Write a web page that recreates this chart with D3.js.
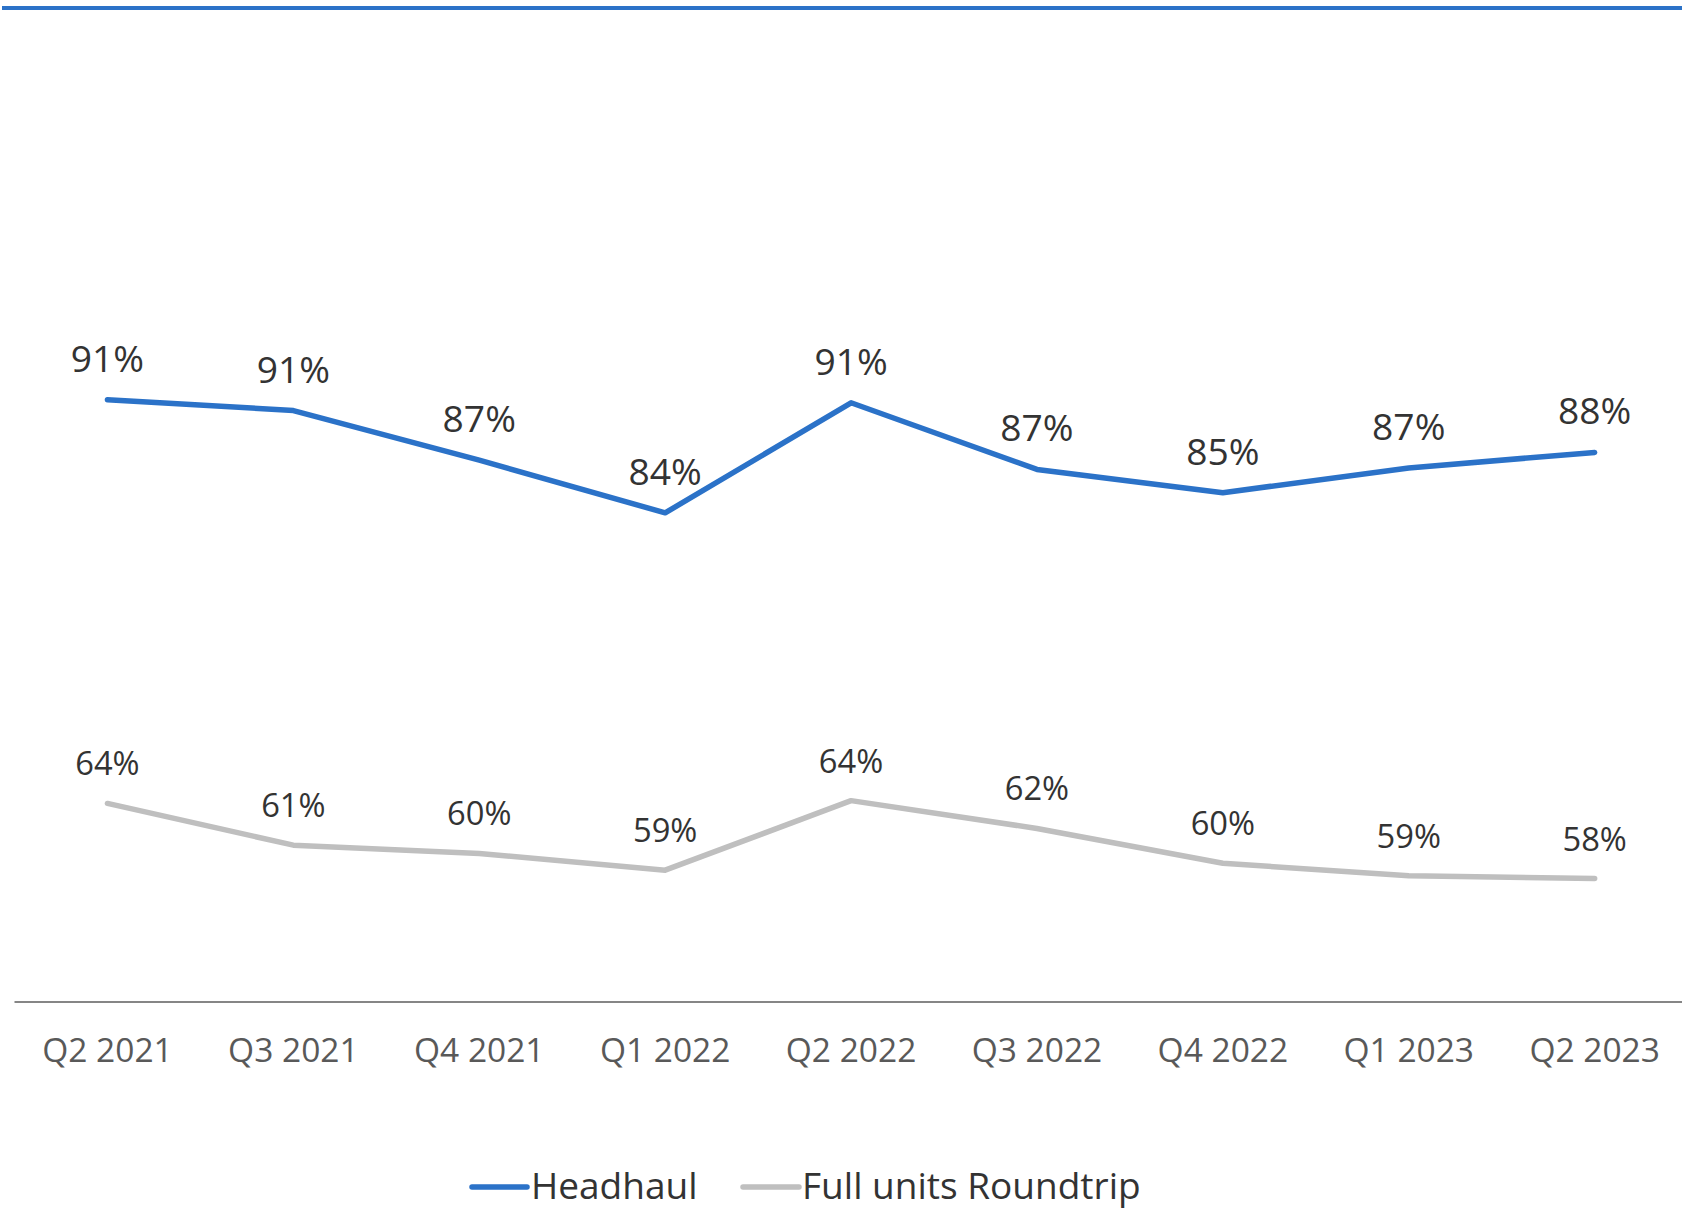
<!DOCTYPE html>
<html>
<head>
<meta charset="utf-8">
<script src="https://cdn.jsdelivr.net/npm/d3@7/dist/d3.min.js"></script>
<style>
  html, body { margin: 0; padding: 0; background: #ffffff; }
  svg { display: block; font-family: "Open Sans", "Noto Sans", sans-serif; }
</style>
</head>
<body>
<svg id="chart" width="1682" height="1209"></svg>
<script>
// ---- data ----
const categories = ["Q2 2021", "Q3 2021", "Q4 2021", "Q1 2022", "Q2 2022", "Q3 2022", "Q4 2022", "Q1 2023", "Q2 2023"];
const headhaul = [91.3, 90.6, 87.4, 84.0, 91.1, 86.8, 85.3, 86.9, 87.9];
const roundtrip = [63.8, 60.8, 60.2, 59.0, 64.0, 62.0, 59.5, 58.6, 58.4];
const seriesNames = ["Headhaul", "Full units Roundtrip"];

// ---- setup ----
const W = 1682, H = 1209;
const plotTop = 40, plotBottom = 1002;
const svg = d3.select("#chart");
const blue = "#2B72C8", gray = "#BFBFBF";

const x = d3.scaleBand().domain(categories).range([14.5, 14.5 + 9 * 185.9]).padding(0);
const cx = d => x(d) + x.bandwidth() / 2;

// primary axis (Headhaul) and secondary axis (Roundtrip), both hidden
const yH = d3.scaleLinear().domain([52.45, 114.5]).range([plotBottom, plotTop]);
const yR = d3.scaleLinear().domain([49.52, 118.7]).range([plotBottom, plotTop]);

// top decorative rule
svg.append("line")
  .attr("x1", 2).attr("x2", W).attr("y1", 8).attr("y2", 8)
  .attr("stroke", blue).attr("stroke-width", 4);

// x axis
const xAxis = d3.axisBottom(x).tickSize(0).tickPadding(0);
const gx = svg.append("g").attr("transform", `translate(0,${plotBottom})`).call(xAxis);
gx.select(".domain").attr("stroke", "#868686").attr("stroke-width", 2)
  .attr("d", `M${x.range()[0]},0H${W}`);
gx.selectAll(".tick text")
  .attr("y", 0).attr("dy", null)
  .attr("transform", "translate(0,60)")
  .attr("font-size", 33.5)
  .attr("font-family", "'Open Sans', sans-serif")
  .attr("fill", "#595959");

// lines
function drawSeries(values, yScale, color, fontSize) {
  const pts = categories.map((c, i) => [cx(c), yScale(values[i])]);
  svg.append("path")
    .attr("d", d3.line()(pts))
    .attr("fill", "none").attr("stroke", color).attr("stroke-width", 5.5)
    .attr("stroke-linecap", "round").attr("stroke-linejoin", "round");
  svg.append("g").selectAll("text").data(values).join("text")
    .attr("x", (d, i) => cx(categories[i]))
    .attr("y", (d, i) => yScale(d) - 28)
    .attr("text-anchor", "middle")
    .attr("font-size", fontSize)
    .attr("fill", "#333333")
    .text(d => Math.round(d) + "%");
}
drawSeries(roundtrip, yR, gray, 32.7);
drawSeries(headhaul, yH, blue, 37.2);

// legend
const legend = [
  { name: seriesNames[0], color: blue, x1: 472, x2: 527, tx: 531 },
  { name: seriesNames[1], color: gray, x1: 743, x2: 799, tx: 802 }
];
const lg = svg.append("g");
legend.forEach(l => {
  lg.append("line").attr("x1", l.x1).attr("x2", l.x2).attr("y1", 1187).attr("y2", 1187)
    .attr("stroke", l.color).attr("stroke-width", 5.5).attr("stroke-linecap", "round");
  lg.append("text").attr("x", l.tx).attr("y", 1198.5)
    .attr("font-size", 37).attr("fill", "#333333").text(l.name);
});
</script>
</body>
</html>
